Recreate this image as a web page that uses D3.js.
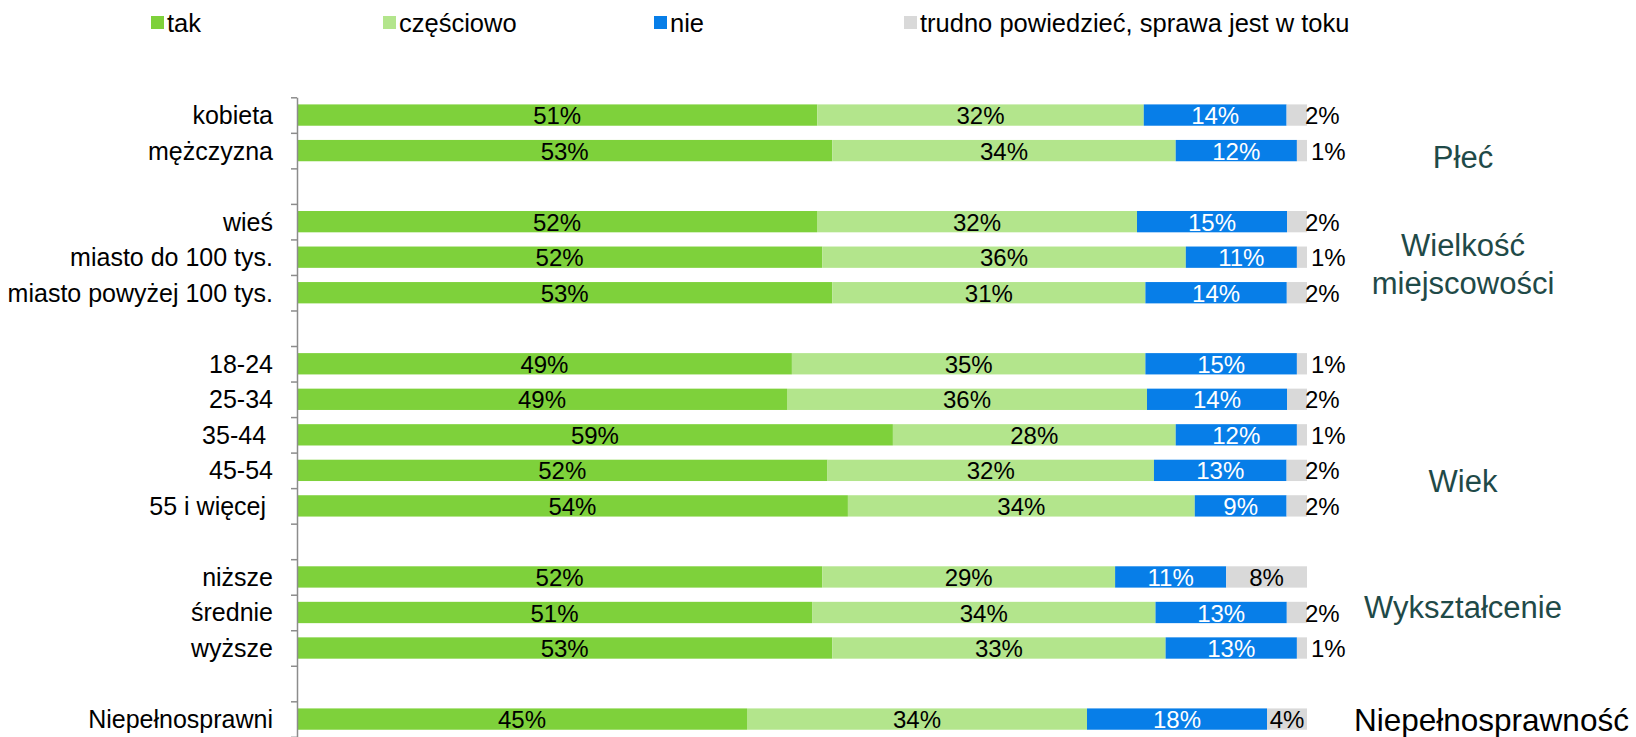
<!DOCTYPE html>
<html>
<head>
<meta charset="utf-8">
<script src="https://cdn.jsdelivr.net/npm/d3@7"></script>
<style>
  body { margin: 0; background: #fff; }
  text { font-family: "Liberation Sans", Arial, sans-serif; white-space: pre; }
</style>
</head>
<body>
<div id="chart"></div>
<script>
// Data
var categories = ["kobieta", "mężczyzna", "wieś", "miasto do 100 tys.", "miasto powyżej 100 tys.",
  "18-24", "25-34", "35-44 ", "45-54", "55 i więcej ", "niższe", "średnie", "wyższe", "Niepełnosprawni"];
var tak       = [51, 53, 52, 52, 53, 49, 49, 59, 52, 54, 52, 51, 53, 45];
var czesciowo = [32, 34, 32, 36, 31, 35, 36, 28, 32, 34, 29, 34, 33, 34];
var nie       = [14, 12, 15, 11, 14, 15, 14, 12, 13,  9, 11, 13, 13, 18];
var trudno    = [ 2,  1,  2,  1,  2,  1,  2,  1,  2,  2,  8,  2,  1,  4];
var seriesNames = ["tak", "częściowo", "nie", "trudno powiedzieć, sprawa jest w toku"];
var groupNames = ["Płeć", "Wielkość\nmiejscowości", "Wiek", "Wykształcenie", "Niepełnosprawność"];
var groupSizes = [2, 3, 5, 3, 1];

//Layout
var svgWidth = 1636;
var svgHeight = 737;
var colors = ["#7ed13b", "#b3e58c", "#077ee8", "#d9d9d9"];
var x0 = 297, x1 = 1307;
var slotStep = 35.53, yTop = 97.3;

var svg = d3.select("#chart")
  .append("svg")
  .attr("width", svgWidth)
  .attr("height", svgHeight);

// build the slot list: categories with a blank slot between groups
var slots = [];
var rows = [];
var groupSlot = [];
var k = 0;
groupSizes.forEach(function(n, g) {
  if (g > 0) slots.push("blank" + g);
  var first = slots.length;
  for (var i = 0; i < n; i++) {
    slots.push("c" + k);
    rows.push({key: "c" + k, label: categories[k], values: [tak[k], czesciowo[k], nie[k], trudno[k]]});
    k++;
  }
  groupSlot.push(first);
});

var yScale = d3.scaleBand()
  .domain(slots)
  .range([yTop, yTop + slots.length * slotStep])
  .paddingInner(0.4)
  .paddingOuter(0.2);

var yLin = d3.scaleLinear()
  .domain([0, slots.length])
  .range([yTop, yTop + slots.length * slotStep]);

var xScale = d3.scaleLinear().domain([0, 1]).range([x0, x1]);

// 100% stacked
var stackData = rows.map(function(r) {
  var o = {key: r.key};
  seriesNames.forEach(function(s, i) { o[s] = r.values[i]; });
  return o;
});
var stack = d3.stack().keys(seriesNames).offset(d3.stackOffsetExpand);
var layers = stack(stackData);

var layer = svg.selectAll("g.layer")
  .data(layers)
  .enter().append("g")
  .attr("class", "layer")
  .attr("fill", function(d, i) { return colors[i]; });

layer.selectAll("rect")
  .data(function(d) { return d; })
  .enter().append("rect")
  .attr("x", function(d) { return xScale(d[0]); })
  .attr("width", function(d) { return xScale(d[1]) - xScale(d[0]); })
  .attr("y", function(d) { return yScale(d.data.key); })
  .attr("height", yScale.bandwidth());

// value labels
layers.forEach(function(L, si) {
  svg.append("g").selectAll("text")
    .data(L)
    .enter().append("text")
    .attr("x", function(d) {
      var v = d.data[seriesNames[si]];
      if (si == 3 && v <= 2) return xScale(d[1]) + (v == 1 ? 4 : -2);
      return (xScale(d[0]) + xScale(d[1])) / 2;
    })
    .attr("y", function(d) { return yScale(d.data.key) + yScale.bandwidth() / 2; })
    .attr("dy", "0.38em")
    .attr("text-anchor", function(d) {
      return (si == 3 && d.data[seriesNames[si]] <= 2) ? "start" : "middle";
    })
    .attr("font-size", 24)
    .attr("fill", si == 2 ? "#fff" : "#000")
    .text(function(d) { return d.data[seriesNames[si]] + "%"; });
});

// axis with ticks at slot boundaries
var leftAxis = d3.axisLeft(yLin)
  .tickValues(d3.range(0, slots.length + 1))
  .tickSize(6)
  .tickSizeOuter(0)
  .tickFormat("");
var axisG = svg.append("g")
  .attr("transform", "translate(" + x0 + ",0)")
  .call(leftAxis);
axisG.selectAll("path, line").attr("stroke", "#8c8c8c").attr("stroke-width", 1.5);

// category labels
svg.append("g").selectAll("text")
  .data(rows)
  .enter().append("text")
  .attr("x", 273)
  .attr("y", function(d) { return yScale(d.key) + yScale.bandwidth() / 2; })
  .attr("dy", "0.36em")
  .attr("text-anchor", "end")
  .attr("font-size", 25)
  .attr("fill", "#000")
  .text(function(d) { return d.label; });

// group labels on the right
var groupOffset = [1.18, 1.19, 3.3, 0.85, 0.03];
groupNames.forEach(function(name, g) {
  var yc = yLin(groupSlot[g] + 0.5 + groupOffset[g]);
  var last = g == groupNames.length - 1;
  var lines = name.split("\n");
  var t = svg.append("text")
    .attr("x", last ? 1354 : 1463)
    .attr("y", yc)
    .attr("text-anchor", last ? "start" : "middle")
    .attr("font-size", last ? 31.5 : 31)
    .attr("fill", last ? "#000" : "#1f4a48");
  lines.forEach(function(line, i) {
    t.append("tspan")
      .attr("x", last ? 1354 : 1463)
      .attr("dy", i == 0 ? ((0.36 - (lines.length - 1) * 0.62) + "em") : "1.24em")
      .text(line);
  });
});

// legend
var legendX = [151, 383, 654, 904];
var legend = svg.append("g").selectAll("g")
  .data(seriesNames)
  .enter().append("g")
  .attr("transform", function(d, i) { return "translate(" + legendX[i] + ",16)"; });
legend.append("rect")
  .attr("width", 13)
  .attr("height", 13)
  .attr("fill", function(d, i) { return colors[i]; });
legend.append("text")
  .attr("x", 16)
  .attr("y", 7)
  .attr("dy", "0.36em")
  .attr("font-size", 25.5)
  .text(function(d) { return d; });
</script>
</body>
</html>
